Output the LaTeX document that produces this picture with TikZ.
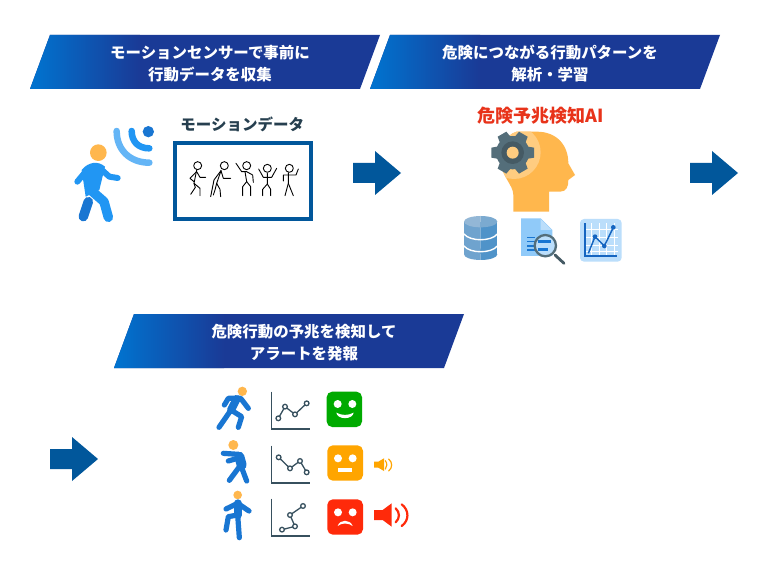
\documentclass[tikz,border=0pt]{standalone}
\usepackage{fontspec}
\newfontfamily\cjk{Noto Sans CJK JP}
\definecolor{bannerdark}{HTML}{1A3A96}
\definecolor{bannerlight}{HTML}{0074D0}
\definecolor{arrowblue}{HTML}{01579B}
\definecolor{bluemain}{HTML}{2196F3}
\definecolor{bluedark}{HTML}{1976D2}
\definecolor{bluelight}{HTML}{64B5F6}
\definecolor{skin}{HTML}{FFB74D}
\definecolor{skinlight}{HTML}{FFCC80}
\definecolor{slate}{HTML}{546E7A}
\definecolor{slatedark}{HTML}{455A64}
\definecolor{inktext}{HTML}{263F4F}
\definecolor{palechart}{HTML}{BBDEFB}
\definecolor{paledoc}{HTML}{90CAF9}
\definecolor{axisink}{HTML}{37505E}
\definecolor{alertred}{HTML}{FF2A0A}
\definecolor{alertorange}{HTML}{FFA500}
\definecolor{okgreen}{HTML}{00AA00}
\definecolor{titlered}{HTML}{E8331A}
\definecolor{dbleft}{HTML}{6FA3CE}
\definecolor{dbright}{HTML}{4F93C9}
\definecolor{dbtopleft}{HTML}{93B7D6}
\definecolor{dbtopright}{HTML}{7BAAD0}
\definecolor{chartblue}{HTML}{1565C0}
\tikzset{
 bannertext/.style={text=white,font=\cjk\bfseries\fontsize{15.45}{22}\selectfont,align=center,inner sep=0pt},
 stick/.style={draw=black,line width=0.9pt,line join=round,line cap=round},
 limb/.style={draw=bluedark,line width=5.2pt,line join=round,line cap=round},
 bodylimb/.style={draw=bluemain,line width=6pt,line join=round,line cap=round},
 chartline/.style={draw=axisink,line width=1.3pt},
 chartdot/.style={draw=axisink,line width=1.3pt,fill=white},
 facefeature/.style={fill=white},
 zoomA/.style={shift={(20,100)},x=0.33333pt,y=-0.33333pt},
 zoomB/.style={shift={(440,95)},x=0.33333pt,y=-0.33333pt},
 zoomC/.style={shift={(200,375)},x=0.33333pt,y=-0.33333pt},
}
\newcommand{\banner}[6]{%
 \fill[bannerdark] (#1+20,#2) -- (#1+350,#2) -- (#1+330,#2+54) -- (#1,#2+54) -- cycle;
 \shade[left color=bannerlight,right color=bannerdark] (#1+20,#2) -- (#1+110,#2) -- (#1+110,#2+54) -- (#1,#2+54) -- cycle;
 \node[bannertext] (#3a) at (#4,#2+18) {#5};
 \node[bannertext] (#3b) at (#4,#2+40) {#6};
}
\newcommand{\blockarrow}[2]{%
 \fill[arrowblue] (#1,#2-10) -- (#1+22,#2-10) -- (#1+22,#2-22) -- (#1+48,#2) -- (#1+22,#2+22) -- (#1+22,#2+10) -- (#1,#2+10) -- cycle;
}
\newcommand{\dbshape}[1]{%
 \fill[#1] (122,478) ellipse[x radius=50,y radius=17];
 \fill[#1] (72,380) rectangle (172,478);
}
\newcommand{\minichart}[9]{%
 \draw[chartline] (215,#1) -- (215,#1+112) -- (330,#1+112);
 \draw[chartline] (#2,#3) -- (#4,#5) -- (#6,#7) -- (#8,#9);
 \foreach \p in {(#2,#3),(#4,#5),(#6,#7),(#8,#9)} \draw[chartdot] \p circle[radius=7];
}
\begin{document}
\begin{tikzpicture}[x=1pt,y=-1pt]
\useasboundingbox (0,0) rectangle (768,580);
\fill[white] (0,0) rectangle (768,580);
\banner{30}{35}{ba}{210}{モーションセンサーで事前に}{行動データを収集}
\banner{370}{35}{bb}{550}{危険につながる行動パターンを}{解析・学習}
\banner{114}{314}{bc}{304}{危険行動の予兆を検知して}{アラートを発報}
\blockarrow{353}{173}
\blockarrow{690}{173}
\blockarrow{50}{459}
% Sensor person and data box
\begin{scope}[zoomA]
 \fill[skin] (235,158) circle[radius=25];
 \draw[draw=bluedark,line width=9.5pt,line cap=round] (205,305) -- (190,350);
 \draw[bodylimb] (205,205) -- (172,245);
 \draw[bodylimb] (240,205) -- (268,230) -- (293,234);
 \fill[bluemain] (185,210) .. controls (205,185) and (235,182) .. (255,200) -- (238,270) -- (197,290) -- cycle;
 \draw[draw=bluemain,line width=9.5pt,line cap=round,line join=round] (212,270) -- (252,305) -- (265,352);
 \fill[bluedark] (385,95) circle[radius=17];
 \draw[draw=bluemain,line width=6.5pt,line cap=round] (335,93) .. controls (335,125) and (355,145) .. (388,145);
 \draw[draw=bluelight,line width=6.5pt,line cap=round] (290,93) .. controls (290,150) and (330,188) .. (388,188);
 \draw[draw=arrowblue,line width=4pt] (465,129) rectangle (872,356);
 \node[text=inktext,font=\cjk\bfseries\fontsize{15.5}{18}\selectfont,inner sep=0pt] (motion) at (667,72) {モーションデータ};
 % stick figures
 \draw[stick] (533,197) circle[radius=12];
 \draw[stick] (530,210) -- (522,250) -- (540,265) -- (540,287);
 \draw[stick] (522,250) -- (526,262) -- (512,283);
 \draw[stick] (530,215) -- (510,235) -- (522,245);
 \draw[stick] (530,215) -- (540,232) -- (557,232);
 \draw[stick] (613,197) circle[radius=12];
 \draw[stick] (603,212) -- (590,250) -- (600,268) -- (602,290);
 \draw[stick] (603,212) -- (582,240) -- (572,290);
 \draw[stick] (590,250) -- (585,270) -- (580,285);
 \draw[stick] (603,212) -- (610,235) -- (632,235);
 \draw[stick] (680,197) circle[radius=12];
 \draw[stick] (648,190) -- (665,215) -- (680,215) -- (698,225) -- (700,247);
 \draw[stick] (675,215) -- (680,245) -- (668,260) -- (668,287);
 \draw[stick] (680,245) -- (692,260) -- (692,287);
 \draw[stick] (742,205) circle[radius=12];
 \draw[stick] (716,207) -- (730,232) -- (755,232) -- (770,205);
 \draw[stick] (742,220) -- (742,252) -- (728,268) -- (728,287);
 \draw[stick] (742,252) -- (752,268) -- (752,287);
 \draw[stick] (808,205) circle[radius=12];
 \draw[stick] (790,243) -- (790,225) -- (828,225) -- (835,207);
 \draw[stick] (805,218) -- (805,250) -- (795,287);
 \draw[stick] (805,250) -- (820,287);
\end{scope}
% AI head and icons
\begin{scope}[zoomB]
 \node[text=titlered,font=\cjk\bfseries\fontsize{18}{20}\selectfont,inner sep=0pt] (aititle) at (303,62) {危険予兆検知AI};
 \begin{scope}
  \clip (220,350) -- (327,350) -- (327,290) -- (360,290) .. controls (380,290) and (385,275) .. (385,255) -- (405,240) -- (385,205) .. controls (385,150) and (350,110) .. (290,110) -- (230,110) .. controls (195,120) and (180,160) .. (182,200) .. controls (185,245) and (220,270) .. (220,300) -- cycle;
  \fill[skin] (150,90) rectangle (420,360);
  \fill[skinlight] (222,172) circle[radius=80];
 \end{scope}
 \foreach \a in {90,30,-30,-90,-150,150}{
  \fill[slate,rotate around={\a:(218,173)}] (218-15,173-64) -- (218+15,173-64) -- (218+20,173-35) -- (218-20,173-35) -- cycle;
 }
 \fill[slate] (218,173) circle[radius=50];
 \fill[slatedark] (218,173) circle[radius=34];
 \fill[skinlight] (218,173) circle[radius=18];
 % database
 \begin{scope}
  \clip (60,350) rectangle (122,510);
  \dbshape{dbleft}
  \fill[dbtopleft] (122,380) ellipse[x radius=50,y radius=17];
 \end{scope}
 \begin{scope}
  \clip (122,350) rectangle (185,510);
  \dbshape{dbright}
  \fill[dbtopright] (122,380) ellipse[x radius=50,y radius=17];
 \end{scope}
 \draw[white,line width=1.4pt] (72,417) .. controls (90,440) and (154,440) .. (172,417);
 \draw[white,line width=1.4pt] (72,453) .. controls (90,476) and (154,476) .. (172,453);
 % document
 \fill[paledoc] (243,370) -- (302,370) -- (337,405) -- (337,483) -- (243,483) -- cycle;
 \fill[palechart] (302,372) -- (335,405) -- (302,405) -- cycle;
 \foreach \yy in {425,437,450,463}{\fill[bluedark] (262,\yy) rectangle (285,\yy+5);}
 \draw[draw=slatedark,line width=2.8pt,line cap=round] (345,480) -- (372,505);
 \draw[draw=slate,line width=2.3pt,fill=palechart] (316,452) circle[radius=32];
 \fill[bluedark] (295,434) rectangle (332,444);
 \fill[bluedark] (295,458) rectangle (325,468);
 % chart
 \fill[palechart,rounded corners=4pt] (420,372) rectangle (545,500);
 \foreach \xx in {455,478,500,522}{\draw[white,line width=1pt] (\xx,385) -- (\xx,483);}
 \foreach \yy in {405,428,452,470}{\draw[white,line width=1pt] (435,\yy) -- (535,\yy);}
 \draw[chartblue,line width=1.5pt] (435,385) -- (435,483) -- (532,483);
 \draw[chartblue,line width=1.5pt] (445,475) -- (465,425) -- (493,453) -- (520,397);
 \foreach \p in {(465,425),(493,453),(520,397)} \fill[chartblue] \p circle[radius=7];
\end{scope}
% Alert rows
\begin{scope}[zoomC]
 % runner
 \fill[skin] (127,49) circle[radius=14];
 \draw[limb] (73,90) -- (85,70) -- (122,70) -- (145,100);
 \draw[limb,line width=8pt] (110,72) -- (93,105);
 \draw[limb] (93,105) -- (57,157);
 \draw[limb] (93,105) -- (125,125) -- (115,157);
 % crouching
 \fill[skin] (100,210) circle[radius=15];
 \draw[limb] (70,235) -- (115,238);
 \draw[limb] (85,258) -- (112,250);
 \draw[limb,line width=10pt] (118,245) -- (125,270);
 \draw[limb] (122,270) -- (88,316);
 \draw[limb] (122,270) -- (140,318);
 % standing
 \fill[skin] (113,360) circle[radius=13];
 \draw[limb] (78,402) -- (113,385) -- (147,408);
 \draw[limb,line width=8pt] (113,385) -- (113,420);
 \draw[limb] (113,420) -- (85,425) -- (78,465);
 \draw[limb] (113,420) -- (118,488);
 % charts
 \minichart{50}{235}{130}{255}{95}{285}{118}{320}{85}
 \minichart{212}{236}{247}{270}{280}{300}{258}{320}{292}
 \minichart{371}{246}{464}{285}{454}{270}{420}{309}{393}
 % faces
 \fill[okgreen,rounded corners=5.5pt] (380,50) rectangle (486,156);
 \fill[facefeature] (413,87) circle[radius=12];
 \fill[facefeature] (457,87) circle[radius=12];
 \fill[facefeature] (409,113) .. controls (425,122) and (445,122) .. (461,113) .. controls (458,135) and (412,135) .. (409,113) -- cycle;
 \fill[alertorange,rounded corners=5.5pt] (382,211) rectangle (489,317);
 \fill[facefeature] (414,250) circle[radius=12];
 \fill[facefeature] (458,250) circle[radius=12];
 \fill[facefeature] (414,279) rectangle (457,292);
 \fill[alertred,rounded corners=5.5pt] (382,373) rectangle (489,479);
 \fill[facefeature] (414,412) circle[radius=12];
 \fill[facefeature] (458,412) circle[radius=12];
 \fill[facefeature] (413,453) .. controls (420,432) and (450,432) .. (458,453) .. controls (445,443) and (425,443) .. (413,453) -- cycle;
 % speakers
 \fill[alertorange] (522,260) -- (535,260) -- (552,250) -- (552,288) -- (535,278) -- (522,278) -- cycle;
 \draw[alertorange,line width=1.2pt,line cap=round] (556,257) .. controls (562,265) and (562,275) .. (556,282);
 \draw[alertorange,line width=1.2pt,line cap=round] (566,252) .. controls (578,262) and (578,278) .. (566,288);
 \fill[alertred] (522,405) -- (548,405) -- (575,385) -- (575,455) -- (548,435) -- (522,435) -- cycle;
 \draw[alertred,line width=2.2pt,line cap=round] (587,400) .. controls (600,412) and (600,430) .. (587,442);
 \draw[alertred,line width=2.2pt,line cap=round] (605,388) .. controls (628,405) and (628,437) .. (605,453);
\end{scope}
\end{tikzpicture}
\end{document}
